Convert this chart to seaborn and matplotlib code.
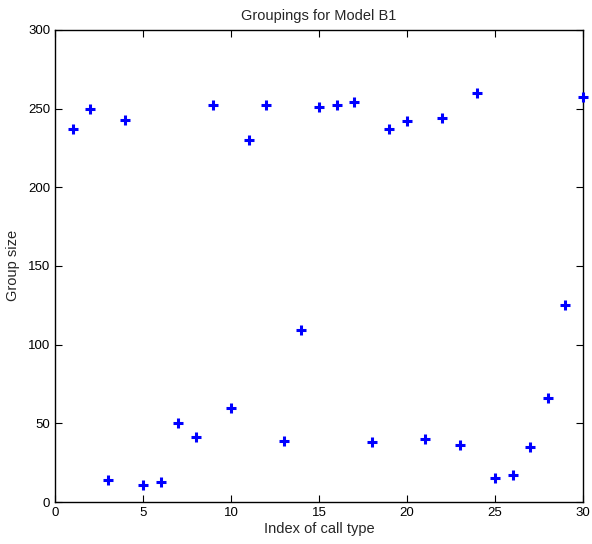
import matplotlib
matplotlib.use("Agg")
import matplotlib.pyplot as plt
import seaborn as sns
import pandas as pd

call_index = list(range(1, 31))
group_size = [237, 250, 14, 243, 11, 13, 50, 41, 252, 60,
              230, 252, 39, 109, 251, 252, 254, 38, 237, 242,
              40, 244, 36, 260, 15, 17, 35, 66, 125, 257]
x_ticks = [0, 5, 10, 15, 20, 25, 30]
y_ticks = [0, 50, 100, 150, 200, 250, 300]

sns.set_style("ticks")
plt.rcParams["font.family"] = ["Liberation Sans", "DejaVu Sans"]

df = pd.DataFrame({"idx": call_index, "size": group_size})

fig = plt.figure(figsize=(5.92, 5.44), dpi=100)
ax = fig.add_axes([0.0929, 0.0772, 0.892, 0.868])

sns.scatterplot(data=df, x="idx", y="size", marker="+", s=55,
                linewidth=2.2, color="#0000ff", ax=ax, legend=False,
                clip_on=False, zorder=3)

ax.set_xlim(0, 30)
ax.set_ylim(0, 300)
ax.set_xticks(x_ticks)
ax.set_yticks(y_ticks)
ax.tick_params(direction="in", top=True, right=True, length=5, width=0.8,
               labelsize=9.5, colors="black")
for s in ax.spines.values():
    s.set_visible(True)
    s.set_linewidth(1.0)
    s.set_color("black")

ax.set_title("Groupings for Model B1", fontsize=10.5, pad=7)
ax.set_xlabel("Index of call type", fontsize=10.5, labelpad=2)
ax.set_ylabel("Group size", fontsize=10.5, labelpad=6)

fig.savefig("out.png", dpi=100, facecolor="white")
